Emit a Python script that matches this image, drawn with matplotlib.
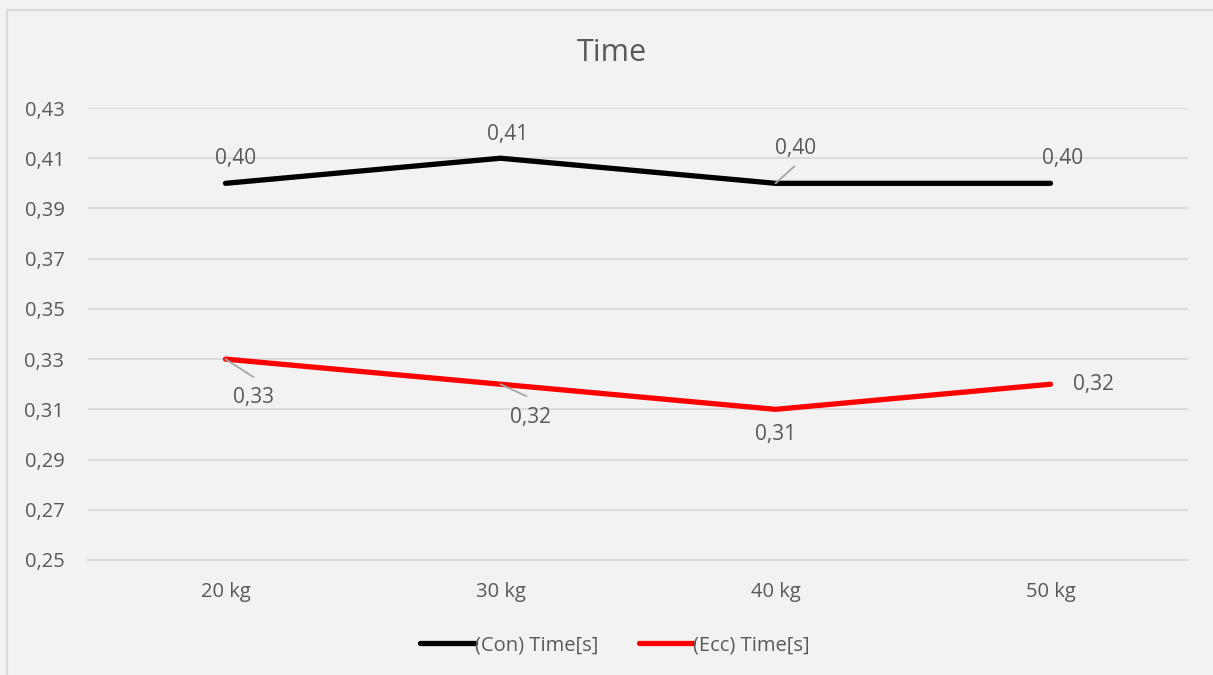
import matplotlib.pyplot as plt
from matplotlib.patches import Rectangle

categories = ['20 kg', '30 kg', '40 kg', '50 kg']
con_time = [0.40, 0.41, 0.40, 0.40]
ecc_time = [0.33, 0.32, 0.31, 0.32]

# label offsets in pixels (dx, dy), leader line end in pixels (or None)
con_offsets = [(10, 25), (7, 24), (20, 35), (12, 25)]
con_leaders = [None, None, (19, 17), None]
ecc_offsets = [(28, -38), (30, -33), (0, -25), (43, 0)]
ecc_leaders = [(28, -18), (26, -12), None, None]

TEXT = '#595959'
PX = 0.72  # pixels -> points at 100 dpi


def fmt(v):
    return '{:.2f}'.format(v).replace('.', ',')


def label(ax, x, y, off, leader):
    ax.annotate(fmt(y), xy=(x, y), xytext=(off[0] * PX, off[1] * PX),
                textcoords='offset points', ha='center', va='center',
                fontsize=15, color=TEXT)
    if leader:
        ax.annotate('', xy=(x, y), xytext=(leader[0] * PX, leader[1] * PX),
                    textcoords='offset points',
                    arrowprops=dict(arrowstyle='-', color='#a6a6a6', lw=1.3,
                                    shrinkA=0, shrinkB=0))


def main():
    plt.rcParams['font.family'] = ['Open Sans', 'DejaVu Sans']
    fig = plt.figure(figsize=(12.13, 6.75), dpi=100, facecolor='#f2f2f2')
    fig.patches.append(Rectangle((7 / 1213, -0.05), 1.1, 1 - 10 / 675 + 0.05,
                                 transform=fig.transFigure, fill=False,
                                 edgecolor='#d9d9d9', lw=1.5))
    ax = fig.add_axes([88 / 1213, 1 - 560 / 675, 1100 / 1213, 452 / 675])
    ax.set_facecolor('#f2f2f2')

    x = list(range(len(categories)))
    ax.plot(x, con_time, color='black', lw=3.8, solid_capstyle='round',
            label='(Con) Time[s]', zorder=3)
    ax.plot(x, ecc_time, color='#ff0000', lw=3.8, solid_capstyle='round',
            label='(Ecc) Time[s]', zorder=3)

    for i in x:
        label(ax, i, con_time[i], con_offsets[i], con_leaders[i])
        label(ax, i, ecc_time[i], ecc_offsets[i], ecc_leaders[i])

    ax.set_xlim(-0.5, 3.5)
    ax.set_ylim(0.25, 0.43)
    ax.set_yticks([0.25 + 0.02 * k for k in range(10)])
    ax.set_yticklabels([fmt(0.25 + 0.02 * k) for k in range(10)])
    ax.set_xticks(x)
    ax.set_xticklabels(categories)
    ax.tick_params(length=0, labelsize=14.5, colors=TEXT)
    ax.tick_params(axis='y', pad=17)
    ax.tick_params(axis='x', pad=16)
    ax.grid(axis='y', color='#d9d9d9', lw=1.3)
    ax.set_axisbelow(True)
    for s in ax.spines.values():
        s.set_visible(False)
    ax.spines['bottom'].set_visible(True)
    ax.spines['bottom'].set_color('#d9d9d9')
    ax.spines['bottom'].set_linewidth(1.3)

    fig.text(612 / 1213, 1 - 53 / 675, 'Time', ha='center', va='center',
             fontsize=22, color=TEXT)

    leg = fig.legend(loc='center', bbox_to_anchor=(615 / 1213, 1 - 645 / 675),
                     ncol=2, frameon=False, fontsize=14.5, handlelength=2.7,
                     handletextpad=0.0, columnspacing=2.0)
    for t in leg.get_texts():
        t.set_color(TEXT)

    fig.savefig('out.png', dpi=100, facecolor=fig.get_facecolor())


if __name__ == '__main__':
    main()
